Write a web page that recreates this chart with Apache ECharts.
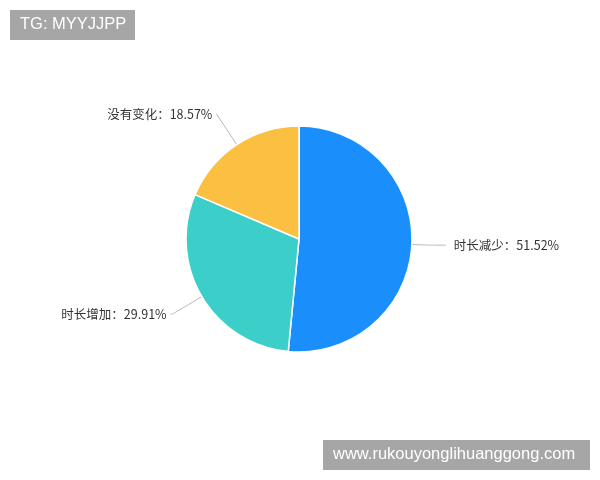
<!DOCTYPE html>
<html>
<head>
<meta charset="utf-8">
<script src="https://cdn.jsdelivr.net/npm/echarts@6/dist/echarts.min.js"></script>
<style>
html,body{margin:0;padding:0;background:#fff;}
#main{width:600px;height:480px;}
</style>
</head>
<body>
<div id="main"></div>
<script>
var categories = ['时长减少', '时长增加', '没有变化'];
var values = [51.52, 29.91, 18.57];
var colors = ['#1a8ffc', '#3ccfca', '#fbc042'];
var lineLengths = [[16, 18], [34, 2], [37, 0]];
var labelGaps = [8, 4, 4];

var chart = echarts.init(document.getElementById('main'));
var data = categories.map(function (name, i) {
  return {
    name: name,
    value: values[i],
    itemStyle: { color: colors[i] },
    label: { distanceToLabelLine: labelGaps[i] },
    labelLine: { length: lineLengths[i][0], length2: lineLengths[i][1] }
  };
});
chart.setOption({
  animation: false,
  backgroundColor: '#ffffff',
  graphic: [
    { type: 'rect', left: 10, top: 10, shape: { width: 125, height: 30 }, style: { fill: '#a6a6a6' } },
    { type: 'text', left: 20, top: 16, style: { text: 'TG: MYYJJPP', fill: '#ffffff', font: '16.5px "Liberation Sans", Arial, sans-serif' } },
    { type: 'rect', left: 323, top: 440, shape: { width: 267, height: 30 }, style: { fill: '#a6a6a6' } },
    { type: 'text', left: 333, top: 446, style: { text: 'www.rukouyonglihuanggong.com', fill: '#ffffff', font: '16.5px "Liberation Sans", Arial, sans-serif' } }
  ],
  series: [{
    type: 'pie',
    center: [299, 239],
    radius: 113,
    startAngle: 90,
    clockwise: true,
    avoidLabelOverlap: false,
    itemStyle: { borderColor: '#ffffff', borderWidth: 1.5 },
    label: {
      show: true,
      formatter: function (p) { return p.name + '：' + p.value.toFixed(2) + '%'; },
      color: '#333333',
      fontSize: 12.5,
      fontFamily: '"Noto Sans CJK SC", sans-serif'
    },
    labelLine: { lineStyle: { color: '#b8b8b8', width: 1 }, smooth: 0.2 },
    data: data
  }]
});
</script>
</body>
</html>
